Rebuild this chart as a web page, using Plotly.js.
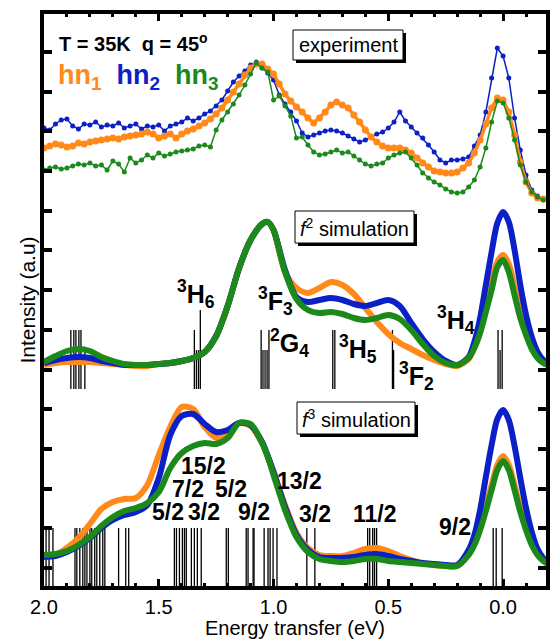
<!DOCTYPE html>
<html>
<head>
<meta charset="utf-8">
<script src="https://cdn.plot.ly/plotly-3.0.1.min.js"></script>
<style>html,body{margin:0;padding:0;background:#fff;}#chart{width:551px;height:639px;}</style>
</head>
<body>
<div id="chart"></div>
<script>
// ---------- experimental spectra (top panel) ----------
const expE = [2.0,1.975,1.95,1.925,1.9,1.875,1.85,1.825,1.8,1.775,1.75,1.725,1.7,1.675,1.65,1.625,1.6,1.575,1.55,1.525,1.5,1.475,1.45,1.425,1.4,1.375,1.35,1.325,1.3,1.275,1.25,1.225,1.2,1.175,1.15,1.125,1.1,1.075,1.05,1.025,1.0,0.975,0.95,0.925,0.9,0.875,0.85,0.825,0.8,0.775,0.75,0.725,0.7,0.675,0.65,0.625,0.6,0.575,0.55,0.525,0.5,0.475,0.45,0.425,0.4,0.375,0.35,0.325,0.3,0.275,0.25,0.225,0.2,0.175,0.15,0.125,0.1,0.075,0.05,0.025,0.0,-0.025,-0.05,-0.075,-0.1,-0.125,-0.15,-0.175];
const expHn1 = [420,422,424,423,421,422,425,424,426,427,428,429,430,429,431,432,433,434,436,434,430,432,434,430,434,437,439,442,445,449,454,460,468,476,484,493,500,504,504,499,494,484,474,467,461,456,450,445,450,456,463,466,463,460,453,446,438,431,426,422,420,420,420,418,415,410,405,401,397,396,395,395,396,400,405,415,428,444,460,470,468,456,433,406,386,375,370,369];
const expHn2 = [440,438,444,448,449,442,439,444,443,446,441,443,442,445,440,442,444,439,442,441,443,437,442,444,446,450,447,450,454,457,462,468,477,486,492,497,503,506,500,495,488,473,464,456,447,435,431,433,435,437,438,437,435,432,429,426,428,431,434,436,440,446,456,447,441,435,430,423,416,408,405,408,408,409,411,422,433,456,490,520,512,490,450,418,393,378,372,369];
const expHn3 = [398,400,401,399,400,402,404,403,405,402,403,398,407,404,396,410,405,408,413,410,415,412,414,416,417,418,419,422,423,421,438,448,456,464,473,483,494,505,500,496,468,472,462,452,430,431,423,416,413,414,416,418,415,416,412,408,404,402,404,405,410,413,415,416,410,403,395,390,386,383,379,376,375,376,381,388,401,420,446,467,465,450,428,403,386,376,371,368];

// ---------- simulations ----------
const simE = [2.0,1.95,1.9,1.85,1.8,1.75,1.7,1.65,1.6,1.55,1.5,1.45,1.4,1.35,1.3,1.25,1.2,1.15,1.1,1.05,1.025,1.0,0.95,0.9,0.85,0.8,0.75,0.7,0.65,0.6,0.55,0.5,0.45,0.4,0.35,0.3,0.25,0.2,0.15,0.125,0.1,0.075,0.05,0.025,0.0,-0.025,-0.05,-0.075,-0.1,-0.125,-0.15,-0.175,-0.195];
// f2 simulation (middle)
const f2Hn1 = [203,205,206,206,206,205,204,203,202,202,204,205,207,210,216,232,262,300,328,344,346,338,296,280,275,280,286,283,274,260,246,234,225,219,213,208,204,202,209,221,238,263,287,306,313,304,281,256,237,222,212,206,203];
const f2Hn2 = [205,208,210,211,210,207,205,203,203,203,204,205,207,210,216,232,262,300,328,344,346,338,298,271,266,268,270,268,264,262,265,268,262,245,229,216,207,203,211,226,250,283,316,345,356,346,318,283,253,231,216,208,205];
const f2Hn3 = [206,212,217,219,217,211,207,204,203,203,204,205,207,210,216,232,262,300,328,344,346,338,296,269,258,255,256,254,250,248,250,253,249,238,224,212,205,203,210,220,235,256,278,301,308,296,273,250,233,219,210,205,203];
// f3 simulation (bottom)
const f3Hn1 = [11,13,20,30,44,59,66,69,70,83,113,141,161,159,141,130,136,145,142,125,111,96,63,35,20,13,12,12,15,19,20,17,12,8,5,3,2,2,14,25,41,61,83,103,112,103,83,60,41,25,14,8,4];
const f3Hn2 = [11,12,16,22,30,40,48,53,56,63,90,133,152,154,144,136,138,145,143,126,112,96,61,33,18,11,10,10,11,13,14,12,9,7,5,4,3,3,18,33,58,91,123,149,158,148,122,90,60,36,19,10,5];
const f3Hn3 = [13,14,17,23,31,42,51,57,60,65,76,100,115,122,125,124,130,145,144,125,111,93,58,31,16,9,7,6,7,9,9,7,6,5,4,3,2,2,13,23,38,57,78,98,107,98,78,56,38,23,13,7,4];

// ---------- transition sticks ----------
const f2StickE = [1.883,1.870,1.861,1.848,1.839,1.822,1.345,1.336,1.327,1.319,1.054,1.046,1.037,1.028,1.020,0.742,0.733,0.482,0.477,0.022,0.013,0.004];
const f2StickI = [1,1,1,1,1,0.66,1,0.66,0.66,1.34,1,0.66,0.66,0.66,1,1,1,1,0.66,1,0.66,1];
const f3StickE = [1.991,1.978,1.961,1.865,1.857,1.844,1.831,1.822,1.813,1.800,1.792,1.779,1.770,1.757,1.744,1.735,1.675,1.644,1.631,1.432,1.423,1.410,1.397,1.388,1.380,1.358,1.345,1.332,1.315,1.206,1.197,1.119,1.111,1.089,1.085,1.041,1.024,1.015,1.002,0.985,0.855,0.820,0.590,0.581,0.568,0.560,0.551,0.043,0.030,0.004];
const f3StickI = f3StickE.map(() => 1);

// term labels
const f2Terms = ['<sup>3</sup>H<sub>6</sub>','<sup>3</sup>F<sub>3</sub>','<sup>2</sup>G<sub>4</sub>','<sup>3</sup>H<sub>5</sub>','<sup>3</sup>F<sub>2</sub>','<sup>3</sup>H<sub>4</sub>'];
const f3Terms = ['15/2','7/2','5/2','5/2','3/2','9/2','13/2','3/2','11/2','9/2'];

const ORANGE = '#ff8a1a', BLUE = '#0c20c8', GREEN = '#1b8a1b';
const FONT = '"Liberation Sans", Arial, Helvetica, sans-serif';

function sticks(E, I, base, unit, name) {
  const x = [], y = [];
  E.forEach((e, k) => { x.push(e, e, null); y.push(base, base + unit * I[k], null); });
  return {x, y, type: 'scatter', mode: 'lines', line: {color: '#000', width: 1.3}, hoverinfo: 'skip', name};
}
function expTrace(y, color, msize, lw, name) {
  return {x: expE, y, type: 'scatter', mode: 'lines+markers', name,
    line: {color, width: lw}, marker: {color, size: msize}};
}
function simTrace(x, y, color, name) {
  return {x, y, type: 'scatter', mode: 'lines', name,
    line: {color, width: 6, shape: 'spline', smoothing: 0.8}};
}

const data = [
  sticks(f2StickE, f2StickI, 179, 59, 'f2 levels'),
  sticks(f3StickE, f3StickI, -20, 60, 'f3 levels'),
  expTrace(expHn2, BLUE, 5, 1.5, 'hn2 exp'),
  expTrace(expHn1, ORANGE, 7, 3.5, 'hn1 exp'),
  expTrace(expHn3, GREEN, 5, 1.5, 'hn3 exp'),
  simTrace(simE, f2Hn1, ORANGE, 'hn1 f2'),
  simTrace(simE, f2Hn2, BLUE, 'hn2 f2'),
  simTrace(simE, f2Hn3, GREEN, 'hn3 f2'),
  simTrace(simE, f3Hn1, ORANGE, 'hn1 f3'),
  simTrace(simE, f3Hn2, BLUE, 'hn2 f3'),
  simTrace(simE, f3Hn3, GREEN, 'hn3 f3')
];

// pixel -> paper helpers for decorations
const L = 44, T = 14, W = 502, H = 572;
const PX = p => (p - L) / W;
const PY = p => (T + H - p) / H;

function box(x0, y0, x1, y1) {
  return [
    {type: 'rect', xref: 'paper', yref: 'paper', x0: PX(x0 + 3), x1: PX(x1 + 3), y0: PY(y0 + 3), y1: PY(y1 + 3), fillcolor: '#000', line: {width: 0}, layer: 'above'},
    {type: 'rect', xref: 'paper', yref: 'paper', x0: PX(x0), x1: PX(x1), y0: PY(y0), y1: PY(y1), fillcolor: '#fff', line: {color: '#000', width: 1}, layer: 'above'}
  ];
}
function ann(text, px, py, size, extra) {
  return Object.assign({text, xref: 'paper', yref: 'paper', x: PX(px), y: PY(py), showarrow: false,
    xanchor: 'center', yanchor: 'middle', font: {family: FONT, size, color: '#000'}}, extra || {});
}

const termPos = [[196, 294], [275, 301], [289, 343], [358, 349], [416, 376], [456, 320]];
const f3Pos = [[203, 466], [188, 489], [231, 489], [168, 512], [204, 512], [254, 512], [299, 481], [315, 514], [375, 514], [455, 527]];

const annotations = [
  ann('<b>T = 35K  q = 45<sup>o</sup></b>', 57, 42, 20, {xanchor: 'left'}),
  ann('<b><span style="color:' + ORANGE + '">hn<sub>1</sub></span>  <span style="color:' + BLUE + '">hn<sub>2</sub></span>  <span style="color:' + GREEN + '">hn<sub>3</sub></span></b>', 56, 77, 27, {xanchor: 'left'}),
  ann('experiment', 348, 45, 20),
  ann('<i>f</i><sup>2</sup> simulation', 354, 227, 20),
  ann('<i>f</i><sup>3</sup> simulation', 356, 418, 20)
];
f2Terms.forEach((t, k) => annotations.push(ann('<b>' + t + '</b>', termPos[k][0], termPos[k][1], 25)));
f3Terms.forEach((t, k) => annotations.push(ann('<b>' + t + '</b>', f3Pos[k][0], f3Pos[k][1], 23)));

const layout = {
  width: 551, height: 639,
  margin: {l: L, r: 551 - L - W, t: T, b: 639 - T - H, pad: 0},
  paper_bgcolor: '#fff', plot_bgcolor: '#fff',
  showlegend: false,
  font: {family: FONT, size: 20, color: '#000'},
  xaxis: {
    range: [2.0, -0.187], tick0: 0, dtick: 0.5, tickformat: '.1f',
    ticks: 'inside', ticklen: 7, tickwidth: 3, tickcolor: '#000',
    minor: {dtick: 0.1, ticks: 'inside', ticklen: 3, tickwidth: 3, tickcolor: '#000'},
    showline: true, linewidth: 4, linecolor: '#000', mirror: 'ticks',
    showgrid: false, zeroline: false,
    tickfont: {family: FONT, size: 20, color: '#000'},
    title: {text: 'Energy transfer (eV)', font: {family: FONT, size: 20, color: '#000'}, standoff: 2}
  },
  yaxis: {
    range: [-18, 554], tick0: 0, dtick: 39.7, showticklabels: false,
    ticks: 'inside', ticklen: 8, tickwidth: 4, tickcolor: '#000',
    showline: true, linewidth: 4, linecolor: '#000', mirror: 'ticks',
    showgrid: false, zeroline: false,
    title: {text: 'Intensity (a.u)', font: {family: FONT, size: 21, color: '#000'}, standoff: 0}
  },
  shapes: [].concat(box(293, 30, 403, 60), box(295, 211, 414, 243), box(297, 402, 415, 434)),
  annotations
};

Plotly.newPlot('chart', data, layout, {displayModeBar: false, staticPlot: true});
</script>
</body>
</html>
